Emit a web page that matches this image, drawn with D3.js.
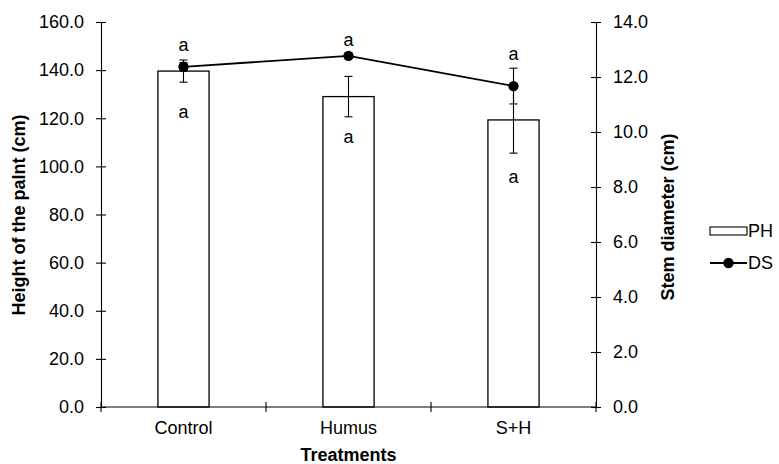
<!DOCTYPE html>
<html>
<head>
<meta charset="utf-8">
<script src="https://cdn.jsdelivr.net/npm/d3@7"></script>
<style>
  body { margin: 0; background: #fff; }
  svg { display: block; font-family: "Liberation Sans", Arial, sans-serif; }
</style>
</head>
<body>
<svg id="chart" width="779" height="464"></svg>
<script>
// ---- data ----
const categories = ["Control", "Humus", "S+H"];
const phValues = [139.6, 129.0, 119.3];      // Height of the plant (cm)
const phErrors = [4.6, 8.4, 13.8];
const dsValues = [12.37, 12.77, 11.67];      // Stem diameter (cm)
const dsErrors = [0.15, 0.1, 0.65];
const phLetters = ["a", "a", "a"];
const phLetterAt = [122.4, 112.1, 95.4];     // in PH units
const dsLetters = ["a", "a", "a"];
const dsLetterAt = [13.16, 13.35, 12.82];    // in DS units
const leftTicks = [0, 20, 40, 60, 80, 100, 120, 140, 160];
const rightTicks = [0, 2, 4, 6, 8, 10, 12, 14];

// ---- layout ----
const svg = d3.select("#chart");
const X0 = 101, X1 = 596, Y0 = 407, Y1 = 22;
const FS = 18;

const x = d3.scaleBand().domain(categories).range([X0, X1]).paddingInner(0.69).paddingOuter(0.345);
const yL = d3.scaleLinear().domain([0, 160]).range([Y0, Y1]);
const yR = d3.scaleLinear().domain([0, 14]).range([Y0, Y1]);
const cx = c => x(c) + x.bandwidth() / 2;

// bars
svg.append("g").selectAll("rect").data(categories).join("rect")
  .attr("x", c => x(c)).attr("width", x.bandwidth())
  .attr("y", (c, i) => yL(phValues[i])).attr("height", (c, i) => Y0 - yL(phValues[i]))
  .attr("fill", "#fff").attr("stroke", "#000").attr("stroke-width", 1.3);

// error bars helper
function errBars(vals, errs, scale) {
  const g = svg.append("g").attr("stroke", "#000").attr("stroke-width", 1.1);
  categories.forEach((c, i) => {
    const xc = cx(c), yt = scale(vals[i] + errs[i]), yb = scale(vals[i] - errs[i]);
    g.append("line").attr("x1", xc).attr("x2", xc).attr("y1", yt).attr("y2", yb);
    g.append("line").attr("x1", xc - 4).attr("x2", xc + 4).attr("y1", yt).attr("y2", yt);
    g.append("line").attr("x1", xc - 4).attr("x2", xc + 4).attr("y1", yb).attr("y2", yb);
  });
}
errBars(phValues, phErrors, yL);

// line
svg.append("path")
  .datum(categories)
  .attr("d", d3.line().x(c => cx(c)).y((c, i) => yR(dsValues[i])))
  .attr("fill", "none").attr("stroke", "#000").attr("stroke-width", 1.8);
errBars(dsValues, dsErrors, yR);
svg.append("g").selectAll("circle").data(categories).join("circle")
  .attr("cx", c => cx(c)).attr("cy", (c, i) => yR(dsValues[i])).attr("r", 5.2).attr("fill", "#000");

// letters
const letterG = svg.append("g").attr("font-size", FS).attr("text-anchor", "middle").attr("dominant-baseline", "central");
categories.forEach((c, i) => {
  letterG.append("text").attr("x", cx(c)).attr("y", yR(dsLetterAt[i])).text(dsLetters[i]);
  letterG.append("text").attr("x", cx(c)).attr("y", yL(phLetterAt[i])).text(phLetters[i]);
});

// axes
function crossTicks(g, dir) {
  g.select(".domain").attr("stroke-width", 1.1);
  g.selectAll(".tick line").attr("stroke-width", 1.1);
  if (dir === "v") g.selectAll(".tick line").attr("x1", -5).attr("x2", 5);
  else g.selectAll(".tick line").attr("y1", -5).attr("y2", 5);
  g.selectAll("text").attr("font-size", FS).attr("font-family", "Liberation Sans, Arial, sans-serif").attr("fill", "#000");
}
const gl = svg.append("g").attr("transform", `translate(${X0},0)`)
  .call(d3.axisLeft(yL).tickValues(leftTicks).tickFormat(d3.format(".1f")).tickSizeOuter(0).tickSize(5).tickPadding(12));
crossTicks(gl, "v");
const gr = svg.append("g").attr("transform", `translate(${X1},0)`)
  .call(d3.axisRight(yR).tickValues(rightTicks).tickFormat(d3.format(".1f")).tickSizeOuter(0).tickSize(5).tickPadding(12));
crossTicks(gr, "v");

const xTickPos = [X0, X0 + x.step(), X0 + 2 * x.step(), X1];
const gx = svg.append("g").attr("transform", `translate(0,${Y0})`);
gx.append("line").attr("x1", X0).attr("x2", X1).attr("stroke", "#000").attr("stroke-width", 1.1);
gx.selectAll("line.t").data(xTickPos).join("line").attr("class", "t")
  .attr("x1", d => d).attr("x2", d => d).attr("y1", -5).attr("y2", 5).attr("stroke", "#000").attr("stroke-width", 1.1);
gx.selectAll("text").data(categories).join("text")
  .attr("x", c => cx(c)).attr("y", 21).attr("text-anchor", "middle").attr("dominant-baseline", "central")
  .attr("font-size", FS).text(c => c);

// axis titles
svg.append("text").attr("x", (X0 + X1) / 2).attr("y", 455).attr("text-anchor", "middle").attr("dominant-baseline", "central")
  .attr("font-size", FS).attr("font-weight", "bold").text("Treatments");
svg.append("text").attr("transform", "translate(19,215) rotate(-90)").attr("text-anchor", "middle").attr("dominant-baseline", "central")
  .attr("font-size", FS).attr("font-weight", "bold").text("Height of the palnt (cm)");
svg.append("text").attr("transform", "translate(668,217) rotate(-90)").attr("text-anchor", "middle").attr("dominant-baseline", "central")
  .attr("font-size", FS).attr("font-weight", "bold").text("Stem diameter (cm)");

// legend
const lg = svg.append("g");
lg.append("rect").attr("x", 710).attr("y", 227).attr("width", 37).attr("height", 8).attr("fill", "#fff").attr("stroke", "#000").attr("stroke-width", 1.1);
lg.append("text").attr("x", 748).attr("y", 231).attr("dominant-baseline", "central").attr("font-size", FS).text("PH");
lg.append("line").attr("x1", 710).attr("x2", 747).attr("y1", 263).attr("y2", 263).attr("stroke", "#000").attr("stroke-width", 1.8);
lg.append("circle").attr("cx", 728.5).attr("cy", 263).attr("r", 5.2).attr("fill", "#000");
lg.append("text").attr("x", 748).attr("y", 263).attr("dominant-baseline", "central").attr("font-size", FS).text("DS");
</script>
</body>
</html>
